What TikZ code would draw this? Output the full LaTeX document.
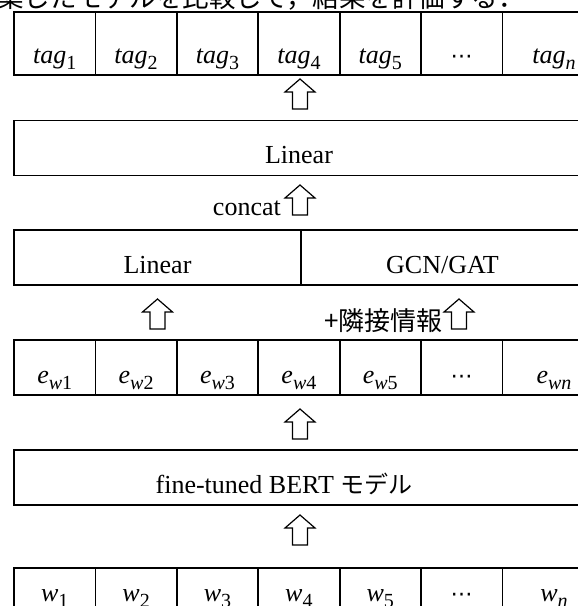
\documentclass[tikz,border=0pt]{standalone}
\usepackage{fontspec}
\setmainfont{Liberation Serif}
\newfontfamily\jafont{Noto Sans CJK JP}
\newfontfamily\symfont{DejaVu Sans}
% italic symbol with an upright subscript
\newcommand\mvar[2]{\textit{#1}\raisebox{-0.24em}{\fontsize{20}{21}\selectfont #2}}
\newcommand\hdots{{\symfont\fontsize{22}{24}\selectfont ⋯}}
\begin{document}
\begin{tikzpicture}[x=1pt,y=-1pt,
  txt/.style={font=\fontsize{26}{30}\selectfont},
  boxline/.style={draw, line width=1.8pt, inner sep=0pt},
  cell/.style={boxline, minimum width=81.4pt, txt},
  lastcell/.style={boxline, minimum width=103.2pt, txt},
  widebox/.style={boxline, minimum height=55pt, text height=43pt, text depth=12pt, txt},
  toprow/.style={minimum height=63pt, text height=51pt, text depth=12pt},
  embrow/.style={minimum height=55pt, text height=43pt, text depth=12pt},
  wordrow/.style={minimum height=55pt, text height=33pt, text depth=22pt},
  blockarrow/.style={draw, fill=white, line width=1.2pt, line join=miter},
  uparrow/.pic={\path[blockarrow] (-7.5,15) -- (-7.5,-2) -- (-15,-2) -- (0,-15)
      -- (15,-2) -- (7.5,-2) -- (7.5,15) -- cycle;}
]
\useasboundingbox (0,0) rectangle (578,606);
\clip (0,0) rectangle (578,606);

% sentence of the running text above the figure
\node[anchor=base west, inner sep=0pt, font=\jafont\fontsize{26.5}{30}\selectfont]
  (caption) at (-3,7) {築したモデルを比較して，結果を評価する．};

% output tags
\foreach \i/\t in {1/{\mvar{tag}{1}},2/{\mvar{tag}{2}},3/{\mvar{tag}{3}},
                   4/{\mvar{tag}{4}},5/{\mvar{tag}{5}},6/{\hdots}}
  \node[cell, toprow] (tag\i) at ({14+81.4*(\i-0.5)},43.5) {\t};
\node[lastcell, toprow] (tag7) at (554,43.5) {\mvar{tag}{\textit{n}}};

% final linear layer
\node[widebox, minimum width=570pt] (lin) at (299,148) {Linear};

% linear / graph branch
\node[widebox, minimum width=287pt] (linb) at (157.5,257.5) {Linear};
\node[widebox, minimum width=283pt] (gcn) at (442.5,257.5) {GCN/GAT};

% word embeddings
\foreach \i/\t in {1/{\mvar{e}{\textit{w}1}},2/{\mvar{e}{\textit{w}2}},3/{\mvar{e}{\textit{w}3}},
                   4/{\mvar{e}{\textit{w}4}},5/{\mvar{e}{\textit{w}5}},6/{\hdots}}
  \node[cell, embrow] (emb\i) at ({14+81.4*(\i-0.5)},367.5) {\t};
\node[lastcell, embrow] (emb7) at (554,367.5) {\mvar{e}{\textit{wn}}};

% encoder, its label sits a little left of the box centre
\node[boxline, minimum width=570pt, minimum height=55pt] (bert) at (299,477.5) {};
\node[anchor=base, inner sep=0pt, txt] (bertlabel) at (284,493)
  {fine-tuned BERT {\jafont\fontsize{24}{28}\selectfont モデル}};

% input words
\foreach \i/\t in {1/{\mvar{w}{1}},2/{\mvar{w}{2}},3/{\mvar{w}{3}},
                   4/{\mvar{w}{4}},5/{\mvar{w}{5}},6/{\hdots}}
  \node[cell, wordrow] (w\i) at ({14+81.4*(\i-0.5)},595.5) {\t};
\node[lastcell, wordrow] (w7) at (554,595.5) {\mvar{w}{\textit{n}}};

% block arrows between the layers
\pic at (300,94) {uparrow};
\pic at (300,200) {uparrow};
\pic at (157.5,314) {uparrow};
\pic at (459,314) {uparrow};
\pic at (300,424) {uparrow};
\pic at (300,530) {uparrow};

% arrow labels
\node[anchor=base east, inner sep=0pt, txt] (concat) at (281,215) {concat};
\node[anchor=base east, inner sep=0pt, font=\jafont\fontsize{26}{28}\selectfont]
  (adj) at (443,330) {+隣接情報};
\end{tikzpicture}
\end{document}
